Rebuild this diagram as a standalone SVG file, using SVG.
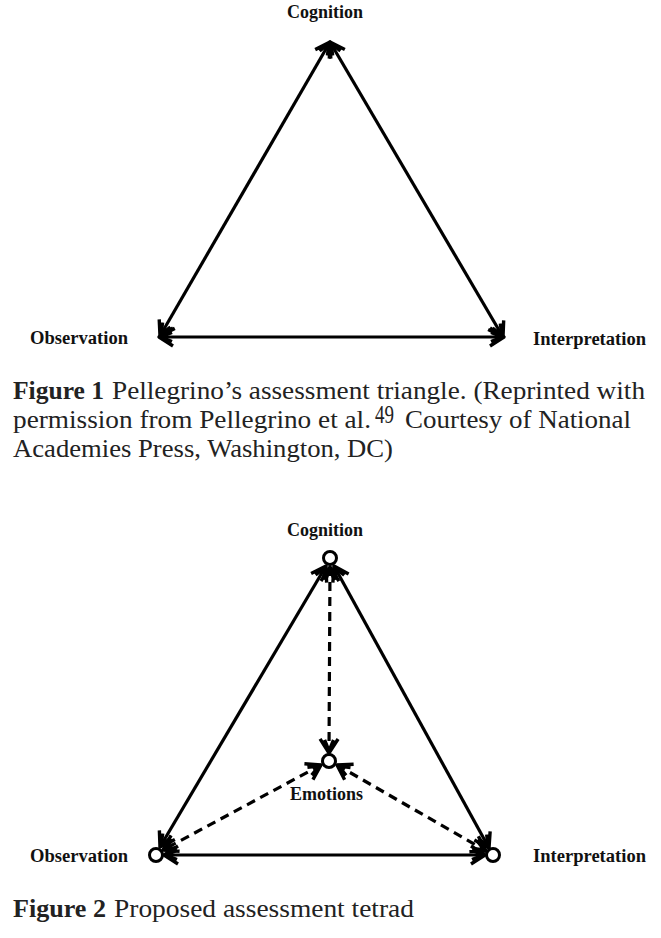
<svg xmlns="http://www.w3.org/2000/svg" width="661" height="938" viewBox="0 0 661 938">
<style>
.lbl{font-family:"Liberation Serif","Times New Roman",serif;font-weight:bold;font-size:18px;fill:#111}
.cap{font-family:"Liberation Serif","Times New Roman",serif;font-size:25px;fill:#222}
.b{font-weight:bold}
.edge{stroke:#000;stroke-width:3.2;fill:none}
.dash{stroke-dasharray:9,6}
.node{fill:#fff;stroke:#000;stroke-width:3}
</style>
<defs>
<marker id="ah" markerUnits="userSpaceOnUse" markerWidth="26" markerHeight="26" viewBox="-20 -13 26 26" refX="0" refY="0" orient="auto-start-reverse">
<path d="M-14,-9 L0,0 L-14,9 M-13,-4.5 L-2,0 L-13,4.5" fill="none" stroke="#000" stroke-width="3.4" stroke-linejoin="round"/>
</marker>
</defs>
<rect width="661" height="938" fill="#fff"/>

<!-- Figure 1 -->
<g id="connectors1">
<line class="edge" x1="330" y1="42" x2="160" y2="336" marker-start="url(#ah)" marker-end="url(#ah)"/>
<line class="edge" x1="330" y1="42" x2="503" y2="337" marker-start="url(#ah)" marker-end="url(#ah)"/>
<line class="edge" x1="159" y1="337" x2="504" y2="337" marker-start="url(#ah)" marker-end="url(#ah)"/>
</g>
<g id="f1-cognition"><text class="lbl" x="287" y="18" textLength="76" lengthAdjust="spacingAndGlyphs">Cognition</text></g>
<g id="f1-observation"><text class="lbl" x="30" y="344" textLength="98" lengthAdjust="spacingAndGlyphs">Observation</text></g>
<g id="f1-interpretation"><text class="lbl" x="533" y="345" textLength="113" lengthAdjust="spacingAndGlyphs">Interpretation</text></g>

<g id="caption1">
<text class="cap b" x="13" y="399" textLength="91" lengthAdjust="spacingAndGlyphs">Figure 1</text>
<text class="cap" x="112" y="399" textLength="533" lengthAdjust="spacingAndGlyphs">Pellegrino’s assessment triangle. (Reprinted with</text>
<text class="cap" x="13" y="428" textLength="358" lengthAdjust="spacingAndGlyphs">permission from Pellegrino et al.</text>
<text class="cap" x="375" y="423" font-size="14" textLength="19" lengthAdjust="spacingAndGlyphs">49</text>
<text class="cap" x="405" y="428" textLength="226" lengthAdjust="spacingAndGlyphs">Courtesy of National</text>
<text class="cap" x="13" y="457" textLength="380" lengthAdjust="spacingAndGlyphs">Academies Press, Washington, DC)</text>
</g>

<!-- Figure 2 -->
<g id="connectors2">
<line class="edge" x1="326" y1="566" x2="160" y2="847" marker-start="url(#ah)" marker-end="url(#ah)"/>
<line class="edge" x1="334" y1="566" x2="489" y2="848" marker-start="url(#ah)" marker-end="url(#ah)"/>
<line class="edge" x1="164" y1="855" x2="485" y2="855" marker-start="url(#ah)" marker-end="url(#ah)"/>
<line class="edge dash" x1="330" y1="567" x2="329" y2="753" marker-start="url(#ah)" marker-end="url(#ah)"/>
<line class="edge dash" x1="321" y1="765" x2="163" y2="850" marker-start="url(#ah)" marker-end="url(#ah)"/>
<line class="edge dash" x1="337" y1="765" x2="486" y2="851" marker-start="url(#ah)" marker-end="url(#ah)"/>
</g>
<g id="f2-cognition"><circle class="node" cx="330" cy="558" r="6.5"/><text class="lbl" x="287" y="536" textLength="76" lengthAdjust="spacingAndGlyphs">Cognition</text></g>
<g id="f2-emotions"><circle class="node" cx="329" cy="761" r="6.5"/><text class="lbl" x="290" y="800" textLength="73" lengthAdjust="spacingAndGlyphs">Emotions</text></g>
<g id="f2-observation"><circle class="node" cx="156" cy="855" r="6.5"/><text class="lbl" x="30" y="862" textLength="98" lengthAdjust="spacingAndGlyphs">Observation</text></g>
<g id="f2-interpretation"><circle class="node" cx="493" cy="855" r="6.5"/><text class="lbl" x="533" y="862" textLength="113" lengthAdjust="spacingAndGlyphs">Interpretation</text></g>

<g id="caption2">
<text class="cap b" x="13" y="917" textLength="93" lengthAdjust="spacingAndGlyphs">Figure 2</text>
<text class="cap" x="114" y="917" textLength="300" lengthAdjust="spacingAndGlyphs">Proposed assessment tetrad</text>
</g>
</svg>
